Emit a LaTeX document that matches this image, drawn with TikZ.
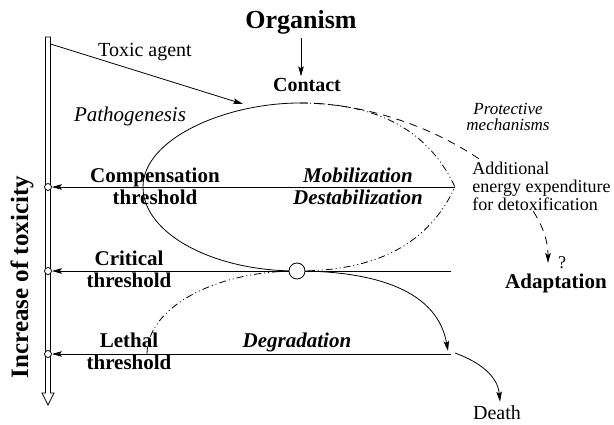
\documentclass[tikz,border=0pt]{standalone}
\usepackage{amssymb}
\usepackage{amsmath}
\usepackage{fontspec}
\setmainfont{Liberation Serif}
\usetikzlibrary{arrows.meta}

\begin{document}
\begin{tikzpicture}[x=1pt,y=1pt,line width=0.8pt,>={Stealth[length=10pt,width=5.5pt,inset=2pt]}]
            \tikzstyle{knot}=[circle,draw=black,fill=white,minimum size=7pt,inner sep=0pt]
            \tikzstyle{hub}=[circle,draw=black,fill=white,minimum size=16pt,inner sep=0pt]
            \tikzstyle{titletext}=[font=\fontsize{26}{28}\selectfont\bfseries,inner sep=3pt]
            \tikzstyle{bftext}=[font=\fontsize{21}{22}\selectfont\bfseries,align=center,inner sep=2pt]
            \tikzstyle{bitext}=[font=\fontsize{21}{22}\selectfont\bfseries\itshape,align=center,inner sep=2pt]
            \tikzstyle{rmtext}=[font=\fontsize{20}{22}\selectfont,inner sep=3pt]
            \tikzstyle{smalltext}=[font=\fontsize{18}{18}\selectfont,align=left,inner sep=1pt]
            \tikzstyle{dashdotdot}=[dash pattern=on 7pt off 3pt on 1pt off 3pt on 1pt off 3pt]
            \tikzstyle{protect}=[dash pattern=on 8pt off 6pt]

            \useasboundingbox (0,0) rectangle (614,424);

                    % axis of toxicity
                    \draw[fill=white] (45.5,387) -- (45.5,31) -- (42,31) -- (48,19) -- (54,31)
                        -- (50.5,31) -- (50.5,387) -- cycle;
                    \node[font=\fontsize{25}{25}\selectfont\bfseries,rotate=90,anchor=base] (axis) at (28,147) {Increase of toxicity};

                    \coordinate (top) at (300,321);
                    \coordinate (lft) at (143,237);
                    \coordinate (tip) at (455,237);
                    \coordinate (C) at (297,153);
                    \coordinate (critR) at (451,153);
                    \coordinate (lethR) at (451,70);
                    \coordinate (agent) at (50.5,380);
                    \coordinate (hit) at (243,320);
                    \coordinate (degEnd) at (448,73);
                    \coordinate (deathFrom) at (455,71);
                    \coordinate (adaptIn) at (548,161);

                    \foreach \n/\y in {1/237, 2/153, 3/70}
                        \node[knot] (T-\n) at (48,\y) {};

                \foreach \from/\to in {tip/T-1, critR/T-2, lethR/T-3}
                    \draw[->] (\from) -- (\to);

                    % loop of compensation
                    \draw (top) .. controls (225,321) and (143,285) .. (lft)
                        .. controls (143,191) and (212,153) .. (C);
                    \draw[dashdotdot] (top) to[out=0,in=115] (tip) to[out=-115,in=0] (C);
                    \draw[dashdotdot] (C) arc[start angle=90,end angle=180,x radius=150,y radius=83];
                    \draw[->] (C) to[out=0,in=100] (degEnd);
                    \draw[protect,->] (top) .. controls (420,321) and (548,240) .. (adaptIn);

                    \node[titletext,anchor=base] (org) at (301,395) {Organism};
                    \node[bftext,font=\fontsize{20}{22}\selectfont\bfseries,anchor=base] (contact) at (307,332) {Contact};
                    \draw[->] (org.south) -- (org.south |- contact.north);

                    \node[rmtext,anchor=base] (toxic) at (145,367) {Toxic agent};
                    \draw[->] (agent) -- (hit);
                    \node[font=\fontsize{21}{22}\selectfont\itshape,anchor=base] (patho) at (130,302) {Pathogenesis};

                    \node[bftext] (comp) at (155,238) {Compensation\\threshold};
                    \node[bftext] (crit) at (129,155) {Critical\\threshold};
                    \node[bftext] (leth) at (129,73) {Lethal\\threshold};
                    \node[bitext] (mobil) at (358,238) {Mobilization\\Destabilization};
                    \node[bitext,anchor=base] (degr) at (297,77) {Degradation};

                    \node[font=\fontsize{17}{16}\selectfont\itshape,align=center,inner sep=1pt] (protec) at (508,307) {Protective\\mechanisms};
                    \node[smalltext,fill=white,anchor=west] (addit) at (471,238) {Additional\\energy expenditure\\for detoxification};
                    \node[font=\fontsize{18}{18}\selectfont,anchor=base] (quest) at (562,156) {?};
                    \node[bftext,anchor=base] (adapt) at (556,136) {Adaptation};

                    \node[rmtext,anchor=base] (death) at (497,5) {Death};
                    \draw[->] (deathFrom) to[out=-20,in=95] ([xshift=3pt]death.north);

                    \node[hub] (H) at (C) {};
        \end{tikzpicture}
\end{document}
